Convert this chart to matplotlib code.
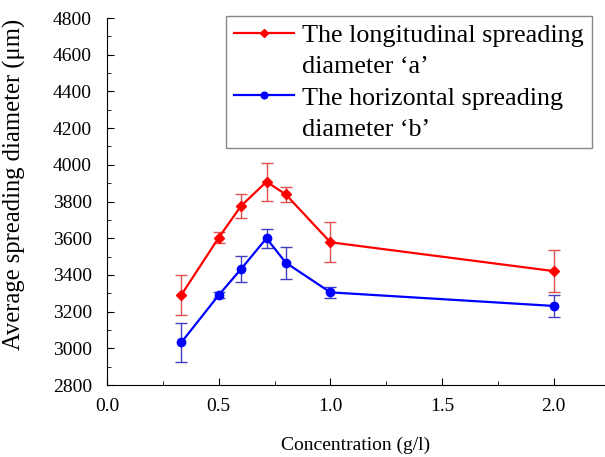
import matplotlib.pyplot as plt
from matplotlib.lines import Line2D
from matplotlib.ticker import MultipleLocator

plt.rcParams["font.family"] = ["Liberation Serif", "DejaVu Serif"]

conc = [0.333, 0.5, 0.6, 0.714, 0.8, 1.0, 2.0]
long_a = [3292, 3603, 3776, 3908, 3839, 3578, 3421]
long_a_err = [108, 30, 65, 104, 41, 109, 114]
hor_b = [3033, 3290, 3432, 3600, 3467, 3305, 3231]
hor_b_err = [107, 18, 70, 53, 87, 30, 58]
label_a = ["The longitudinal spreading", "diameter \u2018a\u2019"]
label_b = ["The horizontal spreading", "diameter \u2018b\u2019"]

fig = plt.figure(figsize=(6.05, 4.57), dpi=100)
ax = fig.add_axes([0.177, 0.1575, 0.823, 0.803])

eb_a = ax.errorbar(conc, long_a, yerr=long_a_err, color="#ff0000", marker="D", markersize=5.5,
                   lw=1.6, ecolor="#e05050", elinewidth=1.0, capsize=4, capthick=1.0)
eb_b = ax.errorbar(conc, hor_b, yerr=hor_b_err, color="#0000ff", marker="o", markersize=6,
                   lw=1.6, ecolor="#4040c0", elinewidth=1.0, capsize=4, capthick=1.0)

ax.set_xlim(0, 2.23)
ax.set_ylim(2800, 4800)
ax.xaxis.set_major_locator(MultipleLocator(0.5))
ax.xaxis.set_minor_locator(MultipleLocator(0.25))
ax.yaxis.set_major_locator(MultipleLocator(200))
ax.yaxis.set_minor_locator(MultipleLocator(100))
ax.xaxis.set_major_formatter(lambda v, p: f"{v:.1f}")
ax.tick_params(which="both", direction="in", labelsize=14)
ax.tick_params(axis="x", pad=9)
ax.tick_params(axis="y", pad=11)
ax.tick_params(which="major", length=5)
ax.tick_params(which="minor", length=3)
ax.spines[["top", "right"]].set_visible(False)

ax.set_xlabel("Concentration (g/l)", fontsize=14, labelpad=16)
ax.set_ylabel("Average spreading diameter (\u03bcm)", fontsize=17.7)
ax.yaxis.set_label_coords(-0.162, 0.548)

# legend: handle on the first line of each label, no error bars
blank = Line2D([], [], color="none")
leg = ax.legend([eb_a[0], blank, eb_b[0], blank], label_a + label_b,
                loc="upper right", bbox_to_anchor=(0.973, 1.005),
                fontsize=18.8, fancybox=False, edgecolor="#888888", framealpha=1,
                handlelength=2.3, handletextpad=0.3, borderpad=0.3, labelspacing=0.3,
                borderaxespad=0, markerscale=0.8)
leg.get_frame().set_linewidth(1.0)

fig.savefig("out.png", dpi=100)
